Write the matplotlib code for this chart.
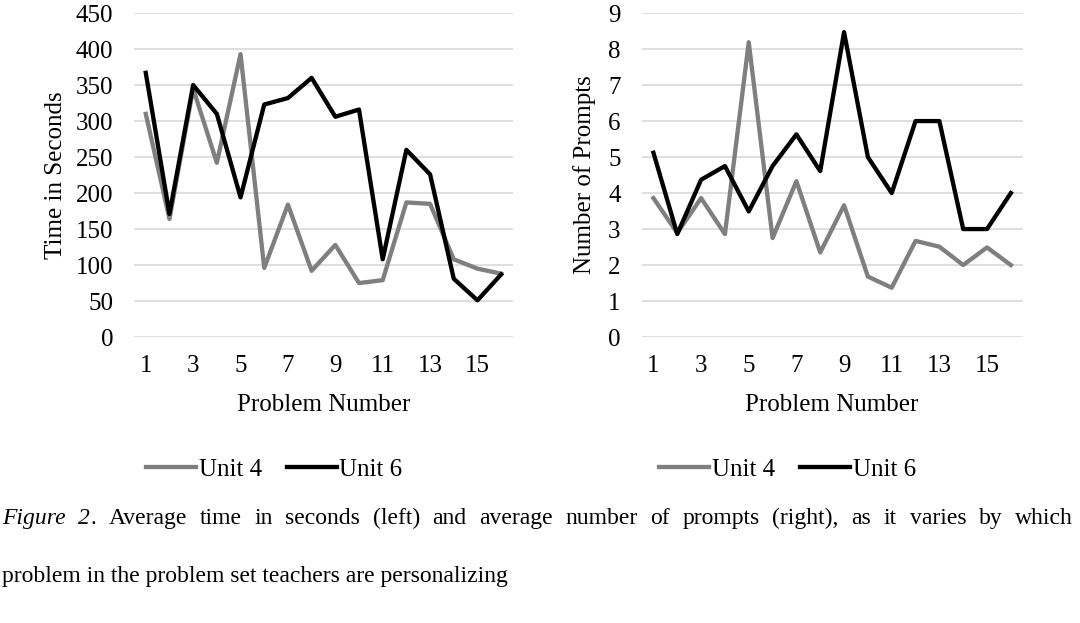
import matplotlib.pyplot as plt

plt.rcParams["font.family"] = ["Liberation Serif", "DejaVu Serif"]

# Data
problems = list(range(1, 17))
time_unit4 = [310, 164, 345, 242, 393, 96, 184, 92, 128, 75, 79, 187, 185, 108, 95, 88]
time_unit6 = [367, 171, 350, 310, 194, 323, 332, 360, 306, 316, 108, 260, 226, 81, 51, 87]
prompts_unit4 = [3.86, 2.89, 3.86, 2.86, 8.19, 2.75, 4.33, 2.35, 3.66, 1.68, 1.37, 2.67, 2.51, 2.0, 2.49, 2.0]
prompts_unit6 = [5.12, 2.86, 4.37, 4.75, 3.49, 4.75, 5.63, 4.61, 8.47, 5.0, 4.0, 6.0, 6.0, 3.0, 3.0, 4.0]

fig = plt.figure(figsize=(10.8, 6.23), dpi=100)
ax1 = fig.add_axes([0.124, 0.459, 0.351, 0.520])
ax2 = fig.add_axes([0.594, 0.459, 0.353, 0.520])

gray = "#7f7f7f"
fs = 18
lw = 3.1


def style(ax, ymax, ystep, ylabel, ylab_x, leg_x):
    ax.set_xlim(0.5, 16.5)
    ax.set_ylim(0, ymax)
    ax.set_yticks(list(range(0, ymax + 1, ystep)))
    ax.set_xticks(list(range(1, 17, 2)))
    ax.grid(axis="y", color="#d9d9d9", linewidth=1.2)
    ax.set_axisbelow(True)
    for s in ax.spines.values():
        s.set_visible(False)
    ax.tick_params(length=0, labelsize=fs)
    ax.tick_params(axis="y", pad=15)
    ax.tick_params(axis="x", pad=13)
    ax.set_ylabel(ylabel, fontsize=fs, va="center")
    ax.yaxis.set_label_coords(ylab_x, 0.5)
    ax.set_xlabel("Problem Number", fontsize=fs, va="center")
    ax.xaxis.set_label_coords(0.5, -0.21)
    ax.legend(loc="center", bbox_to_anchor=(leg_x, -0.41), ncol=2, frameon=False,
              fontsize=fs, handlelength=2.0, handletextpad=0.1, columnspacing=1.0)


ax1.plot(problems, time_unit4, color=gray, linewidth=lw, label="Unit 4")
ax1.plot(problems, time_unit6, color="black", linewidth=lw, label="Unit 6")
style(ax1, 450, 50, "Time in Seconds", -0.205, 0.37)

ax2.plot(problems, prompts_unit4, color=gray, linewidth=lw, label="Unit 4")
ax2.plot(problems, prompts_unit6, color="black", linewidth=lw, label="Unit 6")
style(ax2, 9, 1, "Number of Prompts", -0.150, 0.383)

# caption: first line is justified across the page width, last line left-aligned
cfs = 17
W = fig.bbox.width
renderer = fig.canvas.get_renderer()
line1 = [("Figure", "italic", True), ("2", "italic", True), (".", "normal", False)]
for w in "Average time in seconds (left) and average number of prompts (right), as it varies by which".split():
    line1.append((w, "normal", True))

pieces = []
for word, st, gap_before in line1:
    t = fig.text(0, 0.168, word, fontsize=cfs, style=st, va="center")
    pieces.append((t, t.get_window_extent(renderer=renderer).width, gap_before))

left, right = 2.0, 1073.0
n_gaps = sum(1 for p in pieces[1:] if p[2])
gap = (right - left - sum(p[1] for p in pieces)) / n_gaps
x = left
for i, (t, wpx, gap_before) in enumerate(pieces):
    if i > 0 and gap_before:
        x += gap
    t.set_x(x / W)
    x += wpx

fig.text(left / W, 0.075, "problem in the problem set teachers are personalizing", fontsize=cfs, va="center")

fig.savefig("out.png", dpi=100)
